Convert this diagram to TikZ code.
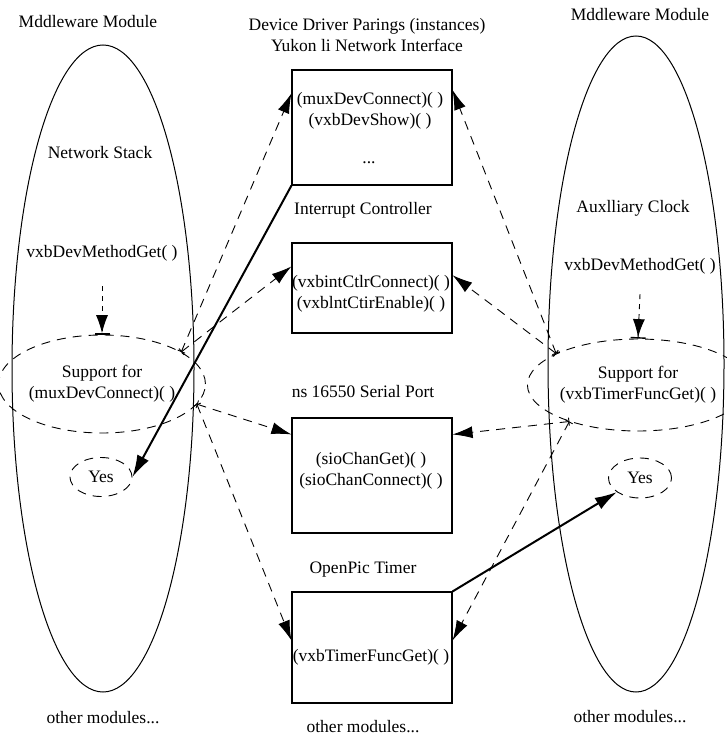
\documentclass[tikz,border=0pt]{standalone}
\usepackage{fontspec}
\setmainfont{Liberation Serif}
\usetikzlibrary{arrows.meta,shapes.geometric}

\begin{document}
\begin{tikzpicture}[x=1pt, y=-1pt,
        every node/.style={font=\fontsize{17.5}{21}\selectfont, inner sep=0pt, align=center},
        modring/.style={draw, ellipse, line width=1pt},
        support/.style={draw, ellipse, dash pattern=on 9pt off 7pt, line width=0.9pt},
        drvbox/.style={draw, rectangle, line width=1.1pt, minimum width=160pt},
        call/.style={dash pattern=on 9pt off 7pt, line width=0.9pt, {Bar[width=8pt]}-{Latex[length=20pt,width=12pt]}},
        probe/.style={dash pattern=on 5pt off 5pt, line width=0.9pt, -{Latex[length=18pt,width=12pt] Bar[width=15pt,line width=1.4pt]}},
        bind/.style={line width=2pt, -{Latex[length=22pt,width=13pt]}}]
            \useasboundingbox (0,0) rectangle (726,741);

            \node[modring, minimum width=182pt, minimum height=647pt] (lmod) at (103,368.5) {};
            \node[modring, minimum width=176pt, minimum height=656pt] (rmod) at (636,364) {};

            \node (lhead) at (88,22) {Mddleware Module};
            \node (rhead) at (640,15) {Mddleware Module};
            \node (dhead) at (367,35) {Device Driver Parings (instances)\\Yukon li Network Interface};

            \node (netstack) at (100,153) {Network Stack};
            \node (lget) at (102,253) {vxbDevMethodGet( )};
            \node[support, minimum width=171pt, minimum height=98pt] (lsup) at (102,384) {Support for\\(muxDevConnect)( )};
            \node[support, minimum width=62pt, minimum height=39pt] (lyes) at (101,477) {Yes};

            \node (auxclk) at (633,208) {Auxlliary Clock};
            \node (rget) at (640,266) {vxbDevMethodGet( )};
            \node[support, minimum width=176pt, minimum height=92pt] (rsup) at (638,385) {Support for\\(vxbTimerFuncGet)( )};
            \node[support, minimum width=63pt, minimum height=40pt] (ryes) at (640,478) {Yes};

            \node[drvbox, minimum height=115pt] (yukon) at (372,127.5) {};
            \node (yukonfn) at (370,111) {(muxDevConnect)( )\\(vxbDevShow)( )};
            \node (yukondots) at (369,163) {...};
            \node (intlabel) at (363,210) {Interrupt Controller};
            \node[drvbox, minimum height=90pt] (intctlr) at (372,288) {};
            \node (intfn) at (371,294) {(vxbintCtlrConnect)( )\\(vxblntCtirEnable)( )};
            \node (seriallabel) at (363,392) {ns 16550 Serial Port};
            \node[drvbox, minimum height=115pt] (serial) at (372,475.5) {};
            \node (serialfn) at (371,471) {(sioChanGet)( )\\(sioChanConnect)( )};
            \node (timerlabel) at (363,570) {OpenPic Timer};
            \node[drvbox, minimum height=111pt] (opentimer) at (372,647.5) {};
            \node (timerfn) at (371,657) {(vxbTimerFuncGet)( )};

            \node (lmore) at (103,718) {other modules...};
            \node (cmore) at (363,727) {other modules...};
            \node (rmore) at (630,717) {other modules...};

            \draw[probe] ([yshift=-25pt]lget.south) -- (lsup.north);
            \draw[probe] ([yshift=-20pt]rget.south) -- (rsup.north);

            \draw[call] (lsup.22) -- (yukon.157);
            \draw[call] (lsup.22) -- (intctlr.165);
            \draw[call] (lsup.-12) -- (serial.153);
            \draw[call] (lsup.-12) -- (opentimer.175);
            \draw[call] (rsup.159) -- (yukon.25);
            \draw[call] (rsup.159) -- (intctlr.9);
            \draw[call] (rsup.208) -- (serial.27);
            \draw[call] (rsup.208) -- (opentimer.5);

            \draw[bind] (yukon.south west) -- (lyes.east);
            \draw[bind] (opentimer.north east) -- (ryes);
        \end{tikzpicture}
\end{document}
